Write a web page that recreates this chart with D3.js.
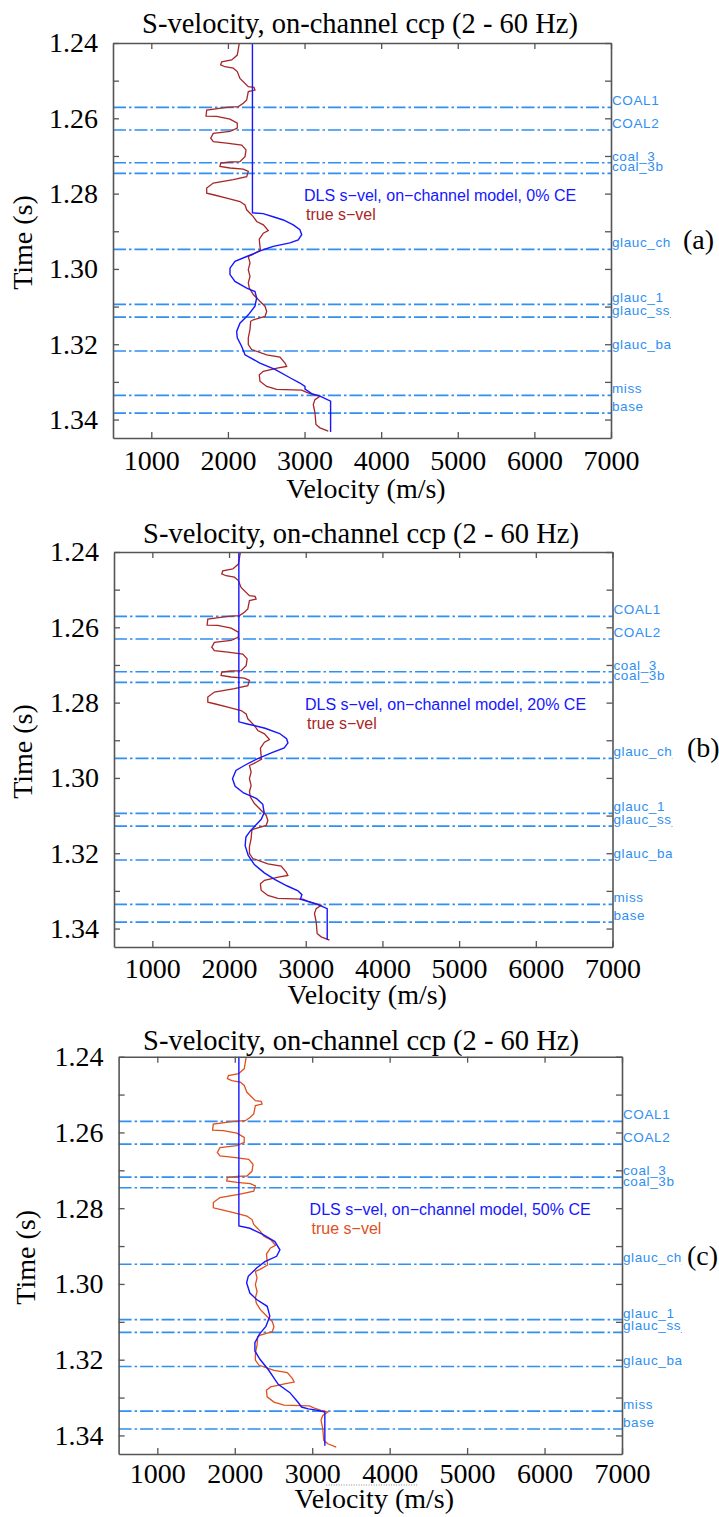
<!DOCTYPE html>
<html>
<head>
<meta charset="utf-8">
<script src="https://cdn.jsdelivr.net/npm/d3@7"></script>
<style>
  html, body { margin: 0; padding: 0; background: #fff; }
  svg { display: block; }
</style>
</head>
<body>
<svg id="chart" width="719" height="1517"></svg>
<script>
// ---- data -------------------------------------------------------------
const titleText = "S-velocity, on-channel ccp (2 - 60 Hz)";
const xDomain = [500, 7000];
const yDomain = [1.24, 1.3449];
const xTickValues = [1000, 2000, 3000, 4000, 5000, 6000, 7000];
const yTickValues = [1.24, 1.25, 1.26, 1.27, 1.28, 1.29, 1.30, 1.31, 1.32, 1.33, 1.34];
// labels on every other tick (1.24, 1.26, ...)
const yTickLabels = ["1.24", "1.26", "1.28", "1.30", "1.32", "1.34"];

// picked horizons (two-way time, s)
const horizonNames = ["COAL1", "COAL2", "coal_3", "coal_3b", "glauc_ch_", "glauc_1",
                      "glauc_ss_", "glauc_bas", "miss", "base"];
const horizonTimes = [1.2571, 1.2631, 1.2718, 1.2746, 1.2948, 1.3094, 1.3128, 1.3218, 1.3336, 1.3383];

// true S-velocity log (well)
const trueTime = [1.2401,1.2432,1.2445,1.2450,1.2458,1.2463,1.2467,1.2476,1.2494,1.2516,
  1.2518,1.2525,1.2529,1.2551,1.2560,1.2569,1.2571,1.2578,1.2594,1.2595,
  1.2602,1.2613,1.2626,1.2635,1.2640,1.2653,1.2662,1.2666,1.2671,1.2684,
  1.2702,1.2715,1.2716,1.2719,1.2728,1.2732,1.2735,1.2741,1.2755,1.2763,
  1.2772,1.2785,1.2799,1.2803,1.2812,1.2821,1.2830,1.2843,1.2861,1.2874,
  1.2883,1.2898,1.2905,1.2921,1.2940,1.2950,1.2962,1.2967,1.2984,1.3002,
  1.3020,1.3037,1.3051,1.3068,1.3086,1.3099,1.3113,1.3126,1.3135,1.3139,
  1.3161,1.3183,1.3201,1.3214,1.3228,1.3234,1.3250,1.3259,1.3263,1.3272,
  1.3281,1.3298,1.3312,1.3320,1.3322,1.3328,1.3334,1.3338,1.3347,1.3360,
  1.3382,1.3413,1.3422,1.3431];
const trueVel = [2148,2122,2049,1918,1905,1962,2070,2122,2157,2266,
  2340,2353,2266,2245,2201,2136,1984,1723,1714,1853,
  2027,2122,2122,2027,1809,1775,1809,1984,2180,2236,
  2223,2157,2027,1905,1896,2027,2201,2266,2245,2070,
  1809,1723,1723,1809,1984,2157,2223,2245,2331,2375,
  2462,2527,2462,2409,2418,2425,2320,2266,2288,2266,
  2288,2266,2279,2331,2418,2484,2506,2484,2331,2297,
  2288,2266,2266,2310,2506,2679,2745,2767,2658,2462,
  2409,2418,2506,2636,2963,3028,3114,3201,3136,3114,
  3136,3149,3201,3310];

// DLS inverted S-velocity, 0% CE
const dls0Time = [1.2400,1.2851,1.2853,1.2862,1.2870,1.2883,1.2896,1.2909,1.2923,1.2931,
  1.2940,1.2949,1.2967,1.2980,1.2998,1.3015,1.3033,1.3051,1.3060,1.3077,
  1.3099,1.3122,1.3144,1.3166,1.3183,1.3206,1.3228,1.3250,1.3267,1.3289,
  1.3303,1.3312,1.3319,1.3331,1.3338,1.3351,1.3433];
const dls0Vel = [2320,2320,2460,2600,2723,2853,2940,2963,2918,2810,
  2592,2462,2245,2092,2027,2027,2092,2245,2353,2375,
  2353,2266,2157,2114,2122,2180,2223,2418,2614,2810,
  2940,3006,3006,3093,3201,3340,3340];

// DLS inverted S-velocity, 20% CE
const dls20Time = [1.2400,1.2851,1.2856,1.2868,1.2882,1.2896,1.2907,1.2920,1.2933,1.2950,
  1.2967,1.2980,1.3002,1.3022,1.3040,1.3055,1.3070,1.3092,1.3110,1.3125,
  1.3140,1.3157,1.3180,1.3206,1.3230,1.3252,1.3270,1.3287,1.3300,1.3310,
  1.3322,1.3334,1.3347,1.3430];
const dls20Vel = [2128,2128,2225,2470,2660,2750,2768,2720,2560,2360,
  2200,2090,2045,2080,2190,2360,2440,2458,2420,2350,
  2280,2220,2210,2250,2330,2460,2600,2760,2900,2950,
  2930,3130,3280,3280];

// DLS inverted S-velocity, 50% CE
const dls50Time = [1.2400,1.2847,1.2853,1.2870,1.2888,1.2910,1.2927,1.2941,1.2958,1.2980,
  1.2997,1.3024,1.3041,1.3059,1.3085,1.3112,1.3133,1.3155,1.3177,1.3199,
  1.3226,1.3265,1.3287,1.3313,1.3325,1.3330,1.3333,1.3338,1.3427];
const dls50Vel = [2053,2053,2195,2367,2518,2583,2540,2389,2282,2174,
  2153,2195,2282,2419,2453,2402,2316,2260,2260,2325,
  2432,2561,2712,2819,2862,2948,3056,3163,3163];

// ---- layout -------------------------------------------------------------
const panels = [
  { left: 113, right: 611, top: 43, bottom: 438, titleX: 360, titleY: 33,
    xLabelPad: 12, xTitleY: 498, yTitleX: 32, tag: "(a)", tagX: 683, tagY: 249,
    dlsTime: dls0Time, dlsVel: dls0Vel, ce: "0%", trueColor: "#a82626" },
  { left: 114, right: 612.5, top: 552, bottom: 947, titleX: 361, titleY: 543,
    xLabelPad: 11, xTitleY: 1004, yTitleX: 32, tag: "(b)", tagX: 687, tagY: 757,
    dlsTime: dls20Time, dlsVel: dls20Vel, ce: "20%", trueColor: "#a82626" },
  { left: 118.6, right: 622, top: 1056.7, bottom: 1454, titleX: 361, titleY: 1050,
    xLabelPad: 9, xTitleY: 1508, yTitleX: 35, tag: "(c)", tagX: 687, tagY: 1265,
    dlsTime: dls50Time, dlsVel: dls50Vel, ce: "50%", trueColor: "#e0501e", dotted: true }
];

const serif = "'Liberation Serif', 'Times New Roman', serif";
const sans = "'Liberation Sans', Arial, sans-serif";
const frameColor = "#555";
const horizonColor = "#2f8ff2";
const dlsColor = "#1616ff";

const svg = d3.select("#chart");

panels.forEach((p, i) => {
  const x = d3.scaleLinear().domain(xDomain).range([p.left, p.right]);
  const y = d3.scaleLinear().domain(yDomain).range([p.top, p.bottom]);
  const g = svg.append("g");

  // title
  g.append("text")
    .attr("x", p.titleX).attr("y", p.titleY)
    .attr("text-anchor", "middle")
    .style("font-family", serif).style("font-size", "28.5px")
    .text(titleText);

  // horizons
  const clipId = "lab" + i;
  svg.append("clipPath").attr("id", clipId)
    .append("rect").attr("x", p.right).attr("y", p.top - 20)
    .attr("width", 60).attr("height", p.bottom - p.top + 40);

  g.append("g").selectAll("line")
    .data(horizonTimes)
    .join("line")
    .attr("x1", p.left).attr("x2", p.right)
    .attr("y1", d => y(d)).attr("y2", d => y(d))
    .attr("stroke", horizonColor).attr("stroke-width", 1.7)
    .attr("stroke-dasharray", "13,3,2.5,3");

  g.append("g").attr("clip-path", `url(#${clipId})`)
    .selectAll("text")
    .data(horizonTimes)
    .join("text")
    .attr("x", p.right + 1)
    .attr("y", d => y(d) - 2)
    .attr("fill", horizonColor)
    .style("font-family", sans).style("font-size", "13.5px")
    .style("letter-spacing", "0.6px")
    .text((d, k) => horizonNames[k]);

  // curves
  const line = d3.line().x(d => x(d[1])).y(d => y(d[0]));
  g.append("path")
    .datum(d3.zip(trueTime, trueVel))
    .attr("d", line)
    .attr("fill", "none").attr("stroke", p.trueColor).attr("stroke-width", 1.3);
  g.append("path")
    .datum(d3.zip(p.dlsTime, p.dlsVel))
    .attr("d", line)
    .attr("fill", "none").attr("stroke", dlsColor).attr("stroke-width", 1.4);

  // axes (ticks point inwards on all four sides)
  const axB = g.append("g").attr("transform", `translate(0,${p.bottom})`)
    .call(d3.axisBottom(x).tickValues(xTickValues).tickSize(-6).tickSizeOuter(0)
      .tickPadding(p.xLabelPad).tickFormat(d3.format("d")));
  const axT = g.append("g").attr("transform", `translate(0,${p.top})`)
    .call(d3.axisTop(x).tickValues(xTickValues).tickSize(-6).tickSizeOuter(0).tickFormat(""));
  const axL = g.append("g").attr("transform", `translate(${p.left},0)`)
    .call(d3.axisLeft(y).tickValues(yTickValues).tickSize(-6).tickSizeOuter(0).tickPadding(15)
      .tickFormat((d, k) => (k % 2 === 0 ? yTickLabels[k / 2] : "")));
  const axR = g.append("g").attr("transform", `translate(${p.right},0)`)
    .call(d3.axisRight(y).tickValues(yTickValues).tickSize(-6).tickSizeOuter(0).tickFormat(""));

  [axB, axT, axL, axR].forEach(a => {
    a.select(".domain").attr("stroke", frameColor).attr("stroke-width", 1.6);
    a.selectAll(".tick line").attr("stroke", frameColor).attr("stroke-width", 1.3);
    a.selectAll(".tick text").attr("fill", "#000")
      .style("font-family", serif).style("font-size", "28px");
  });

  // axis titles
  g.append("text")
    .attr("x", (p.left + p.right) / 2 + 4).attr("y", p.xTitleY)
    .attr("text-anchor", "middle")
    .style("font-family", serif).style("font-size", "28px")
    .text("Velocity (m/s)");
  g.append("text")
    .attr("transform", `translate(${p.yTitleX},${(p.top + p.bottom) / 2 + 2}) rotate(-90)`)
    .attr("text-anchor", "middle")
    .style("font-family", serif).style("font-size", "28px")
    .text("Time (s)");

  // legend
  g.append("text")
    .attr("x", p.left + 191).attr("y", p.top + 158)
    .attr("fill", dlsColor)
    .style("font-family", sans).style("font-size", "16px")
    .text(`DLS s\u2212vel, on\u2212channel model, ${p.ce} CE`);
  g.append("text")
    .attr("x", p.left + 193).attr("y", p.top + 177)
    .attr("fill", p.trueColor)
    .style("font-family", sans).style("font-size", "16px")
    .text("true s\u2212vel");

  // panel tag
  g.append("text")
    .attr("x", p.tagX).attr("y", p.tagY)
    .style("font-family", serif).style("font-size", "28px")
    .text(p.tag);

  if (p.dotted) {
    g.append("line")
      .attr("x1", x(3180)).attr("x2", x(4360))
      .attr("y1", p.bottom + 31).attr("y2", p.bottom + 31)
      .attr("stroke", "#888").attr("stroke-width", 1)
      .attr("stroke-dasharray", "1,1.5");
  }
});
</script>
</body>
</html>
